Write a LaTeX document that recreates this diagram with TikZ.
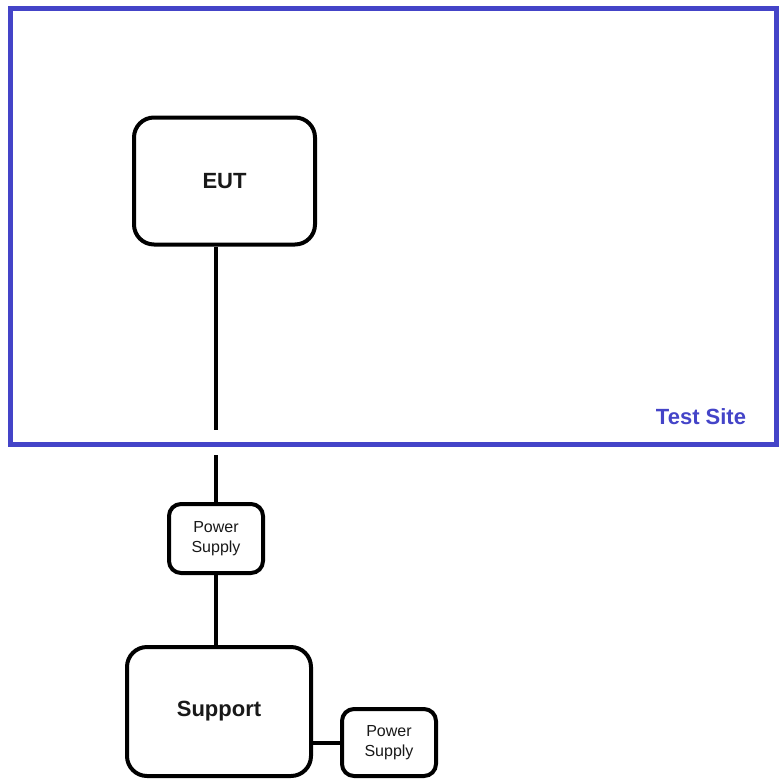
\documentclass[tikz,border=0pt]{standalone}
\usepackage{fontspec}
\setmainfont{Liberation Sans}
\definecolor{siteblue}{RGB}{68,68,200}
\definecolor{ink}{RGB}{25,25,25}
\begin{document}
\begin{tikzpicture}[x=1pt,y=-1pt,
  bigbox/.style={draw=black, line width=4pt, rounded corners=20pt, fill=white,
    text=ink, font=\fontsize{22}{26}\selectfont\bfseries, inner sep=0pt},
  psbox/.style={draw=black, line width=4pt, rounded corners=12pt, fill=white,
    text=ink, font=\fontsize{16}{20}\selectfont, align=center, inner sep=0pt,
    minimum width=94pt},
  wire/.style={draw=black, line width=4pt}]
\useasboundingbox (0,0) rectangle (782,782);
% test site frame
\node[draw=siteblue, line width=5pt, minimum width=766pt, minimum height=435.5pt, inner sep=0pt] (site) at (393,226.25) {};
\node[text=siteblue, font=\fontsize{22}{26}\selectfont\bfseries, anchor=center] (sitelbl) at (701,416.5) {Test Site};
% boxes
\node[bigbox, minimum width=181pt, minimum height=127pt] (eut) at (224.5,181) {EUT};
\node[psbox, minimum height=69pt] (ps1) at (216,538.5) {Power\\Supply};
\node[bigbox, minimum width=184pt, minimum height=129pt] (sup) at (219,711.5) {Support};
\node[psbox, minimum height=67pt] (ps2) at (389,742.5) {Power\\Supply};
% connectors
\coordinate (gapA) at (216,430);
\coordinate (gapB) at (216,455);
\draw[wire] (eut.south -| ps1) -- (gapA);
\draw[wire] (gapB) -- (ps1.north);
\draw[wire] (ps1.south) -- (sup.north -| ps1);
\draw[wire] (ps2.west -| sup.east) -- (ps2.west);
\end{tikzpicture}
\end{document}
